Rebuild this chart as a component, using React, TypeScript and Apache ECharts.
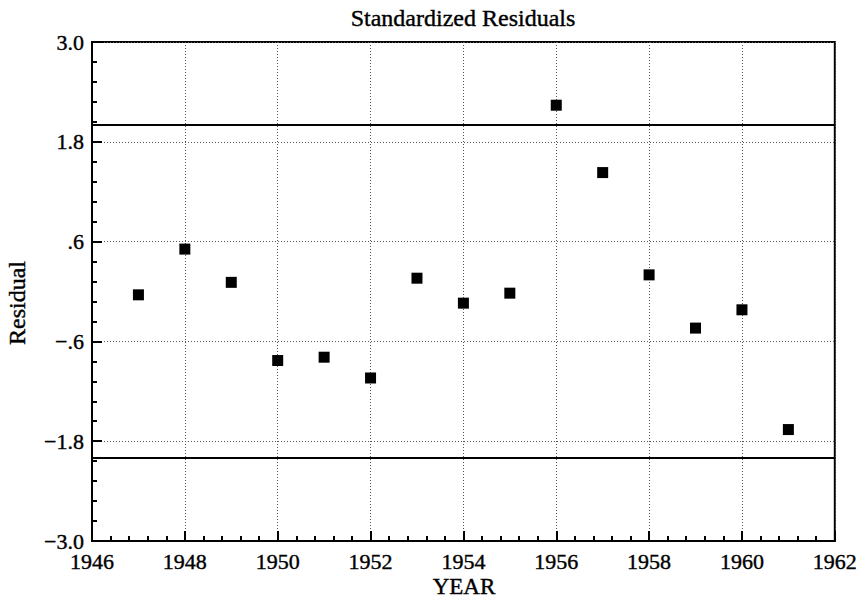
import React, { useEffect, useRef } from "react";
import * as echarts from "echarts";

const years = [1947, 1948, 1949, 1950, 1951, 1952, 1953, 1954, 1955, 1956, 1957, 1958, 1959, 1960, 1961];
const residuals = [-0.04, 0.51, 0.11, -0.83, -0.79, -1.04, 0.16, -0.14, -0.02, 2.24, 1.43, 0.2, -0.44, -0.22, -1.66];
const limits = [2.0, -2.0];
const titleText = "Standardized Residuals";
const xName = "YEAR";
const yName = "Residual";

const FONT = "Liberation Serif";

function fmtY(v: number): string {
  let s = Math.abs(v).toFixed(1);
  if (s.startsWith("0")) s = s.slice(1);
  return (v < -1e-9 ? "\u2212" : "") + s;
}

export default function App() {
  const ref = useRef<HTMLDivElement>(null);
  useEffect(() => {
    if (!ref.current) return;
    const chart = echarts.init(ref.current, null, { renderer: "svg" });
    const left = 92, right = 25, top = 42, bottom = 60;
    const thick = { textBorderColor: "#000", textBorderWidth: 0.4 };
    chart.setOption({
      animation: false,
      backgroundColor: "#ffffff",
      textStyle: { fontFamily: FONT },
      grid: {
        left, right, top, bottom,
        show: true,
        borderColor: "#000",
        borderWidth: 2,
        backgroundColor: "transparent",
      },
      xAxis: {
        type: "value",
        min: 1946,
        max: 1962,
        interval: 2,
        axisLine: { show: true, onZero: false, lineStyle: { color: "#000", width: 2 } },
        axisTick: { show: true, inside: true, length: 10, lineStyle: { color: "#000", width: 2 } },
        minorTick: { show: true, splitNumber: 5, length: 5, lineStyle: { color: "#000", width: 2 } },
        axisLabel: { color: "#000", fontFamily: FONT, fontSize: 22, margin: 9, ...thick, formatter: (v: number) => String(Math.round(v)) },
        splitLine: { show: true, lineStyle: { color: "#555", type: [1, 2], width: 1 } },
      },
      yAxis: {
        type: "value",
        min: -3,
        max: 3,
        interval: 1.2,
        axisLine: { show: true, onZero: false, lineStyle: { color: "#000", width: 2 } },
        axisTick: { show: true, inside: true, length: 10, lineStyle: { color: "#000", width: 2 } },
        minorTick: { show: true, splitNumber: 5, length: 5, lineStyle: { color: "#000", width: 2 } },
        axisLabel: { color: "#000", fontFamily: FONT, fontSize: 22, margin: 8, ...thick, formatter: fmtY },
        splitLine: { show: true, lineStyle: { color: "#555", type: [1, 2], width: 1 } },
      },
      graphic: [
        {
          type: "text",
          x: 463,
          y: 18,
          style: { text: titleText, fill: "#000", fontFamily: FONT, fontSize: 24, align: "center", verticalAlign: "middle", stroke: "#000", lineWidth: 0.4 },
        },
        {
          type: "text",
          x: 464,
          y: 586,
          style: { text: xName, fill: "#000", fontFamily: FONT, fontSize: 23, align: "center", verticalAlign: "middle", stroke: "#000", lineWidth: 0.4 },
        },
        {
          type: "text",
          x: 17,
          y: 303,
          rotation: Math.PI / 2,
          style: { text: yName, fill: "#000", fontFamily: FONT, fontSize: 24, align: "center", verticalAlign: "middle", stroke: "#000", lineWidth: 0.4 },
        },
      ],
      series: [
        {
          type: "scatter",
          data: years.map((y, i) => [y, residuals[i]]),
          symbol: "rect",
          symbolSize: 11,
          itemStyle: { color: "#000", opacity: 1 },
          markLine: {
            silent: true,
            symbol: "none",
            label: { show: false },
            lineStyle: { color: "#000", width: 2, type: "solid" },
            data: limits.map((v) => ({ yAxis: v })),
          },
        },
      ],
    });
    return () => chart.dispose();
  }, []);
  return <div ref={ref} style={{ width: 860, height: 601, position: "absolute", left: 0, top: 0 }} />;
}
